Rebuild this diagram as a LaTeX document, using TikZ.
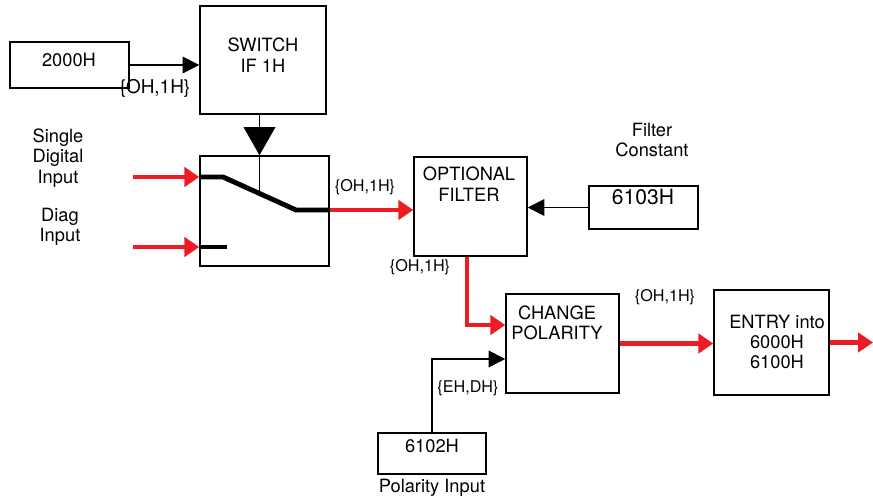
\documentclass[tikz,border=0pt]{standalone}
\usepackage{fontspec}
\setmainfont{TeX Gyre Heros}
\usetikzlibrary{arrows.meta,calc}
\definecolor{sigred}{RGB}{237,28,36}

\begin{document}
\begin{tikzpicture}[x=0.02cm,y=-0.02cm,
    box/.style={draw,line width=0.85pt,inner sep=0pt},
    txt/.style={font=\fontsize{10.4}{11.6}\selectfont,align=center,inner sep=0pt},
    small/.style={font=\fontsize{9.2}{10}\selectfont,inner sep=0pt},
    redarrow/.style={sigred,line width=2.4pt,-{Triangle[length=8.5pt,width=11pt]}},
    blackarrow/.style={line width=0.9pt,-{Triangle[length=9.5pt,width=9.5pt]}},
    bigtip/.style={line width=0.9pt,-{Triangle[length=16pt,width=18pt]}},
    switchline/.style={line width=2.8pt}]
            \useasboundingbox (0,0) rectangle (873,499);
            \node[box,minimum width=2.38cm,minimum height=0.92cm] (b2000) at (69.5,65) {};
            \node[box,minimum width=2.52cm,minimum height=2.16cm] (sw) at (263,60) {};
            \node[box,minimum width=2.58cm,minimum height=2.2cm] (swbox) at (264.5,211) {};
            \node[box,minimum width=2.26cm,minimum height=1.98cm] (filt) at (470.5,206.5) {};
            \node[box,minimum width=2.18cm,minimum height=0.86cm] (b6103) at (643.5,207.5) {};
            \node[box,minimum width=2.26cm,minimum height=1.98cm] (pol) at (562.5,343.5) {};
            \node[box,minimum width=2.16cm,minimum height=0.82cm] (b6102) at (432,453.5) {};
            \node[box,minimum width=2.3cm,minimum height=2.1cm] (entry) at (771.5,342.5) {};
            \node[txt] (t2000) at (69,60) {2000H};
            \node[txt] (tsw) at (263,55) {SWITCH\\IF 1H};
            \node[txt] (tfilt) at (469,184) {OPTIONAL\\FILTER};
            \node[txt,font=\fontsize{12}{13}\selectfont] (t6103) at (643,197) {6103H};
            \node[txt] (tpol) at (557,323) {CHANGE\\POLARITY};
            \node[txt] (t6102) at (432,446) {6102H};
            \node[txt] (tentry) at (777,342) {ENTRY into\\6000H\\6100H};
            \node[txt] (tsingle) at (58,158) {Single\\Digital\\Input};
            \node[txt] (tdiag) at (60,227) {Diag\\Input};
            \node[txt] (tconst) at (652,140) {Filter\\Constant};
            \node[txt] (tpolin) at (432,488) {Polarity Input};
            \node[small,font=\fontsize{10.8}{12}\selectfont] (l1) at (155,88) {\{OH,1H\}};
            \node[small] (l2) at (365,187) {\{OH,1H\}};
            \node[small] (l3) at (420,267) {\{OH,1H\}};
            \node[small] (l4) at (665,297) {\{OH,1H\}};
            \node[small] (l5) at (468,388) {\{EH,DH\}};
            \coordinate (k1) at (223,177);
            \coordinate (k2) at (296,210);
            \coordinate (k3) at (227,247);
            \coordinate (mid) at ($(k1)!0.5!(k2)$);
            \coordinate (in1) at (133,177);
            \coordinate (in2) at (133,247);
            \coordinate (out) at (873,340);
            \draw[switchline] (swbox.west |- k1) -- (k1) -- (k2) -- (swbox.east |- k2);
            \draw[switchline] (swbox.west |- k3) -- (k3);
            \draw[line width=0.9pt] (mid |- swbox.north) -- (mid);
            \draw[bigtip] (mid |- sw.south) -- (mid |- swbox.north);
            \draw[blackarrow] (b2000.east) -- (b2000.east -| sw.west);
            \draw[redarrow] (in1) -- (in1 -| swbox.west);
            \draw[redarrow] (in2) -- (in2 -| swbox.west);
            \draw[redarrow] (swbox.east |- k2) -- (filt.west |- k2);
            \draw[blackarrow] (b6103.west) -- (b6103.west -| filt.east);
            \draw[redarrow] ([xshift=-0.07cm]filt.south) |- ([yshift=0.37cm]pol.west);
            \draw[blackarrow] (b6102.north) |- ([yshift=-0.31cm]pol.west);
            \draw[redarrow] (pol.east) -- (pol.east -| entry.west);
            \draw[redarrow] (entry.east) -- (entry.east -| out);
        \end{tikzpicture}
\end{document}
